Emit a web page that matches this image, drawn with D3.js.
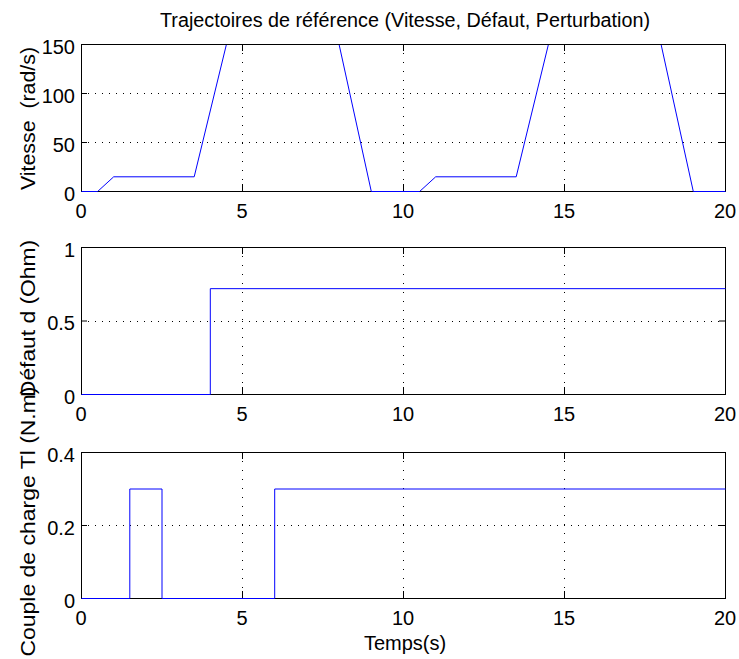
<!DOCTYPE html>
<html>
<head>
<meta charset="utf-8">
<script src="https://cdn.jsdelivr.net/npm/d3@7"></script>
<style>
  html, body { margin: 0; padding: 0; background: #fff; }
  svg { display: block; }
  text { font-family: "Liberation Sans", Arial, Helvetica, sans-serif; fill: #000; }
</style>
</head>
<body>
<svg id="chart" width="739" height="659"></svg>
<script>
// ---- Data ----
const title = "Trajectoires de référence (Vitesse, Défaut, Perturbation)";
const xLabel = "Temps(s)";
const xTicks = [0, 5, 10, 15, 20];

// Speed reference (rad/s)
const speedTime  = [0, 0.5, 1, 3.5, 4.5, 8, 9, 10.5, 11, 13.5, 14.5, 18, 19, 20];
const speedValue = [0, 0,   15, 15, 150, 150, 0, 0,   15, 15,   150,  150, 0, 0];
const speedTicks = [0, 50, 100, 150];
const speedLabel = "Vitesse  (rad/s)";

// Fault (Ohm)
const faultTime  = [0, 4, 4, 20];
const faultValue = [0, 0, 0.72, 0.72];
const faultTicks = [0, 0.5, 1];
const faultLabel = "Défaut d (Ohm)";

// Load torque (N.m)
const loadTime  = [0, 1.5, 1.5, 2.5, 2.5, 6, 6, 20];
const loadValue = [0, 0,   0.3, 0.3, 0,   0, 0.3, 0.3];
const loadTicks = [0, 0.2, 0.4];
const loadLabel = "Couple de charge Tl (N.m)";

// ---- Layout ----
const svg = d3.select("#chart");
const defs = svg.append("defs");
const left = 81, right = 725;
const panels = [
  { top: 44,  bottom: 191, t: speedTime, v: speedValue, dom: [0, 150], ticks: speedTicks,
    label: speedLabel, labelC: 118.5, labelLen: 143 },
  { top: 247, bottom: 394, t: faultTime, v: faultValue, dom: [0, 1], ticks: faultTicks,
    label: faultLabel, labelC: 318.5, labelLen: 157 },
  { top: 452, bottom: 598, t: loadTime, v: loadValue, dom: [0, 0.4], ticks: loadTicks,
    label: loadLabel, labelC: 521.5, labelLen: 270 }
];

const x = d3.scaleLinear().domain([0, 20]).range([left, right]);
const xs = d3.scaleLinear().domain([0, 20]).range([left + 0.5, right + 0.5]);

// Title
svg.append("text")
  .attr("x", 405).attr("y", 27)
  .attr("text-anchor", "middle")
  .style("font-size", "20px")
  .attr("textLength", 490).attr("lengthAdjust", "spacingAndGlyphs")
  .text(title);

panels.forEach((p, k) => {
  const y = d3.scaleLinear().domain(p.dom).range([p.bottom, p.top]);
  const ys = d3.scaleLinear().domain(p.dom).range([p.bottom + 0.5, p.top + 0.5]);
  const g = svg.append("g");

  defs.append("clipPath").attr("id", "clip" + k)
    .append("rect")
    .attr("x", left).attr("y", p.top + 1)
    .attr("width", right - left + 2).attr("height", p.bottom - p.top + 1);

  // grid
  g.selectAll("line.vgrid").data(xTicks.slice(1, -1)).join("line")
    .attr("x1", d => Math.round(x(d)) + 0.5).attr("x2", d => Math.round(x(d)) + 0.5)
    .attr("y1", p.top).attr("y2", p.bottom)
    .attr("stroke", "#000").attr("stroke-width", 1)
    .attr("stroke-dasharray", "1,8");
  g.selectAll("line.hgrid").data(p.ticks.slice(1, -1)).join("line")
    .attr("y1", d => Math.round(y(d)) + 0.5).attr("y2", d => Math.round(y(d)) + 0.5)
    .attr("x1", left).attr("x2", right)
    .attr("stroke", "#000").attr("stroke-width", 1)
    .attr("stroke-dasharray", "1,6");

  // axes (ticks inward) using d3 axes
  const xb = d3.axisBottom(x).tickValues(xTicks).tickSize(-7).tickFormat("");
  const xt = d3.axisTop(x).tickValues(xTicks).tickSize(-7).tickFormat("");
  const yl = d3.axisLeft(y).tickValues(p.ticks).tickSize(-6).tickFormat("");
  const yr = d3.axisRight(y).tickValues(p.ticks).tickSize(-6).tickFormat("");
  [[xb, `translate(0,${p.bottom})`], [xt, `translate(0,${p.top})`],
   [yl, `translate(${left},0)`], [yr, `translate(${right},0)`]].forEach(([ax, tr]) => {
    const a = g.append("g").attr("transform", tr).call(ax);
    a.select(".domain").remove();
    a.selectAll("line").attr("stroke", "#000");
  });

  // box
  g.append("rect")
    .attr("x", left + 0.5).attr("y", p.top + 0.5)
    .attr("width", right - left).attr("height", p.bottom - p.top)
    .attr("fill", "none").attr("stroke", "#000").attr("stroke-width", 1);

  // data line (on top of the box except along the top edge)
  const line = d3.line().x((d, i) => xs(p.t[i])).y(d => ys(d));
  g.append("path")
    .datum(p.v)
    .attr("d", line)
    .attr("clip-path", `url(#clip${k})`)
    .attr("fill", "none")
    .attr("stroke", "#0000ff")
    .attr("stroke-width", 1);

  // x tick labels
  g.selectAll("text.xt").data(xTicks).join("text")
    .attr("x", d => x(d)).attr("y", p.bottom + 27)
    .attr("text-anchor", "middle")
    .style("font-size", "20px")
    .text(d => String(d));

  // y tick labels
  g.selectAll("text.yt").data(p.ticks).join("text")
    .attr("x", left - 6).attr("y", d => y(d) + 9.5)
    .attr("text-anchor", "end")
    .style("font-size", "20px")
    .text(d => String(d));

  // y label
  svg.append("text")
    .attr("transform", `translate(35,${p.labelC}) rotate(-90)`)
    .attr("text-anchor", "middle")
    .style("font-size", "21px")
    .style("white-space", "pre")
    .attr("textLength", p.labelLen).attr("lengthAdjust", "spacingAndGlyphs")
    .text(p.label);
});

// x label
svg.append("text")
  .attr("x", 405).attr("y", 650)
  .attr("text-anchor", "middle")
  .style("font-size", "20px")
  .text(xLabel);
</script>
</body>
</html>
